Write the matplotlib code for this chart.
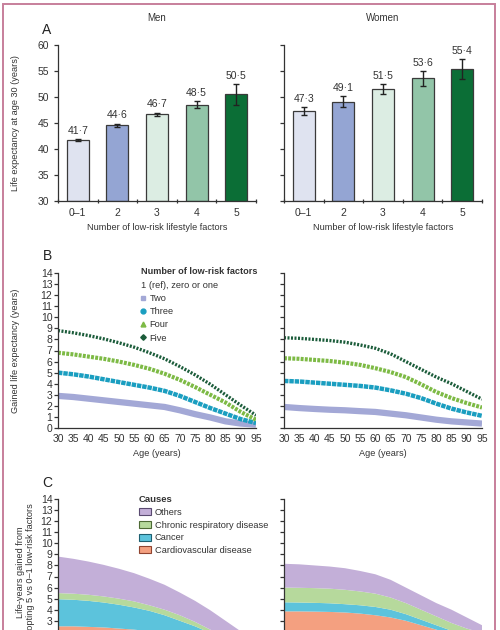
import matplotlib
matplotlib.use("Agg")
import matplotlib.pyplot as plt
from matplotlib.lines import Line2D
from matplotlib.patches import Patch, Rectangle
import numpy as np

plt.rcParams['font.family'] = ['Liberation Sans', 'DejaVu Sans']

# ---------------- data ----------------
factor_labels = ["0–1", "2", "3", "4", "5"]
bar_colors = ["#dfe3f0", "#94a5d3", "#dcede3", "#92c5a8", "#0b6e36"]

men_le = [41.7, 44.6, 46.7, 48.5, 50.5]
men_err = [0.25, 0.3, 0.3, 0.7, 2.0]
women_le = [47.3, 49.1, 51.5, 53.6, 55.4]
women_err = [0.75, 1.05, 1.0, 1.4, 1.95]

ages = [30, 35, 40, 45, 50, 55, 60, 65, 70, 75, 80, 85, 90, 95]

men_two = [2.9, 2.8, 2.65, 2.5, 2.35, 2.2, 2.05, 1.9, 1.6, 1.25, 0.95, 0.6, 0.4, 0.3]
men_three = [5.0, 4.85, 4.65, 4.4, 4.15, 3.9, 3.65, 3.35, 2.9, 2.35, 1.8, 1.3, 0.8, 0.45]
men_four = [6.8, 6.65, 6.45, 6.25, 6.0, 5.7, 5.35, 4.9, 4.35, 3.7, 3.0, 2.3, 1.45, 0.75]
men_five = [8.8, 8.6, 8.35, 8.05, 7.7, 7.3, 6.8, 6.25, 5.55, 4.8, 3.95, 3.0, 2.05, 1.15]

women_two = [1.9, 1.8, 1.72, 1.65, 1.6, 1.52, 1.45, 1.3, 1.15, 0.95, 0.75, 0.6, 0.5, 0.4]
women_three = [4.25, 4.2, 4.1, 4.0, 3.9, 3.8, 3.65, 3.4, 3.1, 2.7, 2.2, 1.75, 1.4, 1.1]
women_four = [6.3, 6.25, 6.15, 6.05, 5.9, 5.7, 5.4, 5.05, 4.6, 3.95, 3.25, 2.7, 2.25, 1.85]
women_five = [8.15, 8.1, 8.0, 7.9, 7.75, 7.5, 7.2, 6.7, 6.0, 5.3, 4.6, 4.0, 3.3, 2.6]

# panel C: contributions for 5 vs 0-1 low-risk factors
men_cvd = [2.5, 2.5, 2.45, 2.4, 2.3, 2.2, 2.05, 1.85, 1.6, 1.35, 1.05, 0.75, 0.5, 0.3]
men_cancer = [2.45, 2.4, 2.35, 2.25, 2.15, 2.0, 1.85, 1.65, 1.4, 1.15, 0.85, 0.6, 0.35, 0.2]
men_resp = [0.55, 0.55, 0.55, 0.55, 0.55, 0.55, 0.5, 0.5, 0.5, 0.4, 0.3, 0.25, 0.15, 0.1]
men_other = [3.3, 3.15, 3.0, 2.85, 2.7, 2.55, 2.4, 2.25, 2.05, 1.9, 1.75, 1.4, 1.05, 0.55]

women_cvd = [3.85, 3.85, 3.83, 3.8, 3.75, 3.65, 3.5, 3.3, 3.0, 2.6, 2.2, 1.8, 1.45, 1.2]
women_cancer = [0.82, 0.8, 0.79, 0.78, 0.75, 0.75, 0.75, 0.7, 0.6, 0.5, 0.4, 0.3, 0.25, 0.2]
women_resp = [1.33, 1.33, 1.33, 1.32, 1.3, 1.25, 1.2, 1.1, 1.0, 0.9, 0.8, 0.7, 0.6, 0.5]
women_other = [2.15, 2.12, 2.05, 2.0, 1.95, 1.85, 1.75, 1.6, 1.4, 1.3, 1.2, 1.2, 1.0, 0.7]

cause_labels = ["Others", "Chronic respiratory disease", "Cancer", "Cardiovascular disease"]
cause_colors = ["#c3afd8", "#b6d99c", "#5cc3dc", "#f4a080"]
cause_edges = ["#5a4a70", "#4d6a35", "#1d5f70", "#904430"]

line_labels = ["Two", "Three", "Four", "Five"]
line_colors = ["#a3a8d6", "#1a9ec0", "#7dba45", "#1b5c3a"]

# ---------------- figure ----------------
W, H = 500, 630
fig = plt.figure(figsize=(W / 100, H / 100), dpi=100)

def ax_px(left, right, top, bottom):
    return fig.add_axes([left / W, 1 - bottom / H, (right - left) / W, (bottom - top) / H])

TXT = "#333333"
FS = 7.5      # tick labels
FL = 6.6      # axis labels
FG = 6.3      # legend text

def style(ax):
    for s in ["top", "right"]:
        ax.spines[s].set_visible(False)
    for s in ["left", "bottom"]:
        ax.spines[s].set_color("#333333")
        ax.spines[s].set_linewidth(0.9)
    ax.tick_params(colors="#333333", labelcolor=TXT, labelsize=FS, width=0.9, length=3)

def ylabel_at(ax, text, xpx, left_px, width_px, size=FL):
    ax.set_ylabel(text, fontsize=size, color=TXT)
    ax.yaxis.set_label_coords((xpx - left_px) / width_px, 0.5)

# Panel A
axA1 = ax_px(58, 256, 45, 201)
axA2 = ax_px(284, 482, 45, 201)
x = np.arange(len(factor_labels))
for ax, vals, errs, title, tx in [(axA1, men_le, men_err, "Men", 157), (axA2, women_le, women_err, "Women", 383)]:
    style(ax)
    ax.bar(x, [v - 30 for v in vals], bottom=30, width=0.56, color=bar_colors,
           edgecolor="#3a3a3a", linewidth=0.9, zorder=2)
    ax.errorbar(x, vals, yerr=errs, fmt="none", ecolor="#222222", elinewidth=1.0,
                capsize=2.5, capthick=1.0, zorder=3)
    for xi, v, e in zip(x, vals, errs):
        ax.text(xi, v + e + 0.6, f"{v:.1f}".replace(".", "·"), ha="center", va="bottom",
                fontsize=FS, color=TXT)
    ax.set_xlim(-0.5, 4.5)
    ax.set_ylim(30, 60)
    ax.set_yticks(range(30, 61, 5))
    ax.set_xticks(x)
    ax.set_xticklabels(factor_labels)
    ax.set_xticks(np.arange(-0.5, 5, 1), minor=True)
    ax.tick_params(axis="x", which="major", length=0, pad=5)
    ax.tick_params(axis="x", which="minor", length=3, width=0.9, direction="inout", colors="#333333")
    ax.set_xlabel("Number of low-risk lifestyle factors", fontsize=FL, color=TXT, labelpad=4)
    fig.text(tx / W, 1 - 18 / H, title, ha="center", va="center", fontsize=7, color=TXT)
ylabel_at(axA1, "Life expectancy at age 30 (years)", 20, 58, 198)
axA2.set_yticklabels([])

# Panel B
axB1 = ax_px(58, 256, 273, 428)
axB2 = ax_px(284, 482, 273, 428)
styles = [dict(lw=4.5, ls="-", solid_capstyle="butt"),
          dict(lw=3.2, ls=(0, (1.0, 0.2)), dash_capstyle="butt"),
          dict(lw=3.0, ls=(0, (0.7, 0.3)), dash_capstyle="butt"),
          dict(lw=2.4, ls=(0, (0.6, 0.45)), dash_capstyle="butt")]
for ax, series in [(axB1, [men_two, men_three, men_four, men_five]),
                   (axB2, [women_two, women_three, women_four, women_five])]:
    style(ax)
    for vals, col, st in zip(series, line_colors, styles):
        ax.plot(ages, vals, color=col, **st, zorder=2)
    ax.set_xlim(30, 95)
    ax.set_ylim(0, 14)
    ax.set_yticks(range(0, 15))
    ax.set_xticks(range(30, 96, 5))
    ax.tick_params(axis="x", length=0, pad=4)
    ax.tick_params(axis="y", pad=1)
    ax.set_xlabel("Age (years)", fontsize=FL, color=TXT, labelpad=4)
ylabel_at(axB1, "Gained life expectancy (years)", 20, 58, 198)
axB2.set_yticklabels([])

# legend B: bold heading + reference line as text, then marker entries
axB1.text((141 - 58) / 198, (428 - 272) / 155, "Number of low-risk factors", transform=axB1.transAxes,
          ha="left", va="center", fontsize=FG + 0.3, fontweight="bold", color=TXT)
axB1.text((141 - 58) / 198, (428 - 285) / 155, "1 (ref), zero or one", transform=axB1.transAxes,
          ha="left", va="center", fontsize=FG + 0.4, color=TXT)
leg_handles = [Line2D([], [], ls="none", marker="s", ms=3.5, color=line_colors[0]),
               Line2D([], [], ls="none", marker="o", ms=3.5, color=line_colors[1]),
               Line2D([], [], ls="none", marker="^", ms=3.5, color=line_colors[2]),
               Line2D([], [], ls="none", marker="D", ms=2.8, color=line_colors[3])]
legB = axB1.legend(leg_handles, line_labels, loc="upper left",
                   bbox_to_anchor=((141 - 58) / 198, (428 - 294) / 155), frameon=False,
                   fontsize=FG + 0.4, handlelength=0.5, handletextpad=0.4, labelspacing=0.45,
                   borderpad=0, borderaxespad=0)
for t in legB.get_texts():
    t.set_color(TXT)

# Panel C (cropped at the bottom as in the reference)
axC1 = ax_px(58, 256, 499, 654)
axC2 = ax_px(284, 482, 499, 654)
for ax, comps in [(axC1, [men_cvd, men_cancer, men_resp, men_other]),
                  (axC2, [women_cvd, women_cancer, women_resp, women_other])]:
    style(ax)
    ax.stackplot(ages, *comps, colors=cause_colors[::-1], linewidth=0, zorder=2)
    ax.set_xlim(30, 95)
    ax.set_ylim(0, 14)
    ax.set_yticks(range(0, 15))
    ax.set_yticklabels(["" if v < 3 else str(v) for v in range(0, 15)])
    ax.tick_params(axis="x", length=0, labelbottom=False)
    ax.tick_params(axis="y", pad=1)
axC2.set_yticklabels([])
fig.text(25.5 / W, 1 - 572 / H, "Life-years gained from\nadopting 5 vs 0–1 low-risk factors",
         rotation=90, ha="center", va="center", fontsize=FL, color=TXT, linespacing=1.25,
         multialignment="center")

c_handles = [Patch(facecolor=c, edgecolor=e, linewidth=0.8) for c, e in zip(cause_colors, cause_edges)]
legC = axC1.legend(c_handles, cause_labels, loc="upper left", bbox_to_anchor=(0.385, 1.055),
                   frameon=False, fontsize=FG + 0.4, title="Causes",
                   title_fontproperties={"size": FG + 0.5, "weight": "bold"},
                   handlelength=1.3, handleheight=0.8, handletextpad=0.4, labelspacing=0.4,
                   borderpad=0, alignment="left")
for t in legC.get_texts():
    t.set_color(TXT)
legC.get_title().set_color(TXT)

# panel letters
for lab, yy in [("A", 30), ("B", 256), ("C", 483)]:
    fig.text(47 / W, 1 - yy / H, lab, ha="center", va="center", fontsize=10, color="#222222")

# border
fig.add_artist(Rectangle((3 / W, -0.1), 492 / W, 1 - 4 / H + 0.1, transform=fig.transFigure,
                         fill=False, edgecolor="#c77f9b", linewidth=1.4))

fig.savefig("out.png", dpi=100)
